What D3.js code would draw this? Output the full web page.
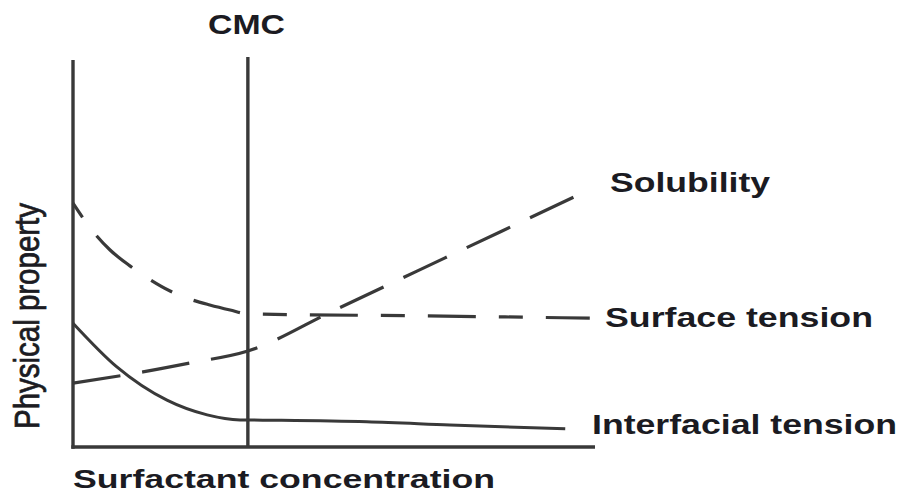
<!DOCTYPE html>
<html>
<head>
<meta charset="utf-8">
<script src="https://cdn.jsdelivr.net/npm/d3@7"></script>
<style>
  html, body { margin: 0; padding: 0; background: #fff; }
  svg { display: block; }
  text { font-family: "Liberation Sans", Arial, Helvetica, sans-serif; fill: #1b1b22; }
</style>
</head>
<body>
<svg id="chart" width="899" height="493"></svg>
<script>
// ---- Data (arbitrary units: concentration 0–100, property 0–100) ----
const cmcConcentration = 33.5;

const surfaceTensionX = [0, 3.3, 7.1, 10.9, 14.8, 18.6, 22.4, 26.2, 30.1, 33.5, 66.5, 99.0];
const surfaceTensionY = [63.0, 56.6, 50.9, 46.8, 43.2, 40.3, 38.2, 36.7, 35.4, 34.4, 33.9, 33.3];

const solubilityX = [0, 13.4, 22.4, 33.5, 50, 66, 82, 99.6];
const solubilityY = [16.5, 19.4, 21.7, 24.8, 35.3, 45.5, 55.7, 66.9];

const interfacialX = [0, 8.4, 18.0, 25.7, 32.0, 39.1, 56.3, 72.2, 94.3];
const interfacialY = [32.0, 20.7, 12.1, 8.3, 7.0, 6.9, 6.5, 5.7, 4.7];

const seriesLabels = ["Solubility", "Surface tension", "Interfacial tension"];
const xTitle = "Surfactant concentration";
const yTitle = "Physical property";
const cmcLabel = "CMC";

// ---- Layout ----
const svg = d3.select("#chart");
const x = d3.scaleLinear().domain([0, 100]).range([73, 595]);
const y = d3.scaleLinear().domain([0, 100]).range([447, 60]);

const ink = "#393939";

// axes (no ticks)
svg.append("line")
  .attr("x1", x(0)).attr("x2", x(0))
  .attr("y1", y(100)).attr("y2", y(0) + 1.7)
  .attr("stroke", ink).attr("stroke-width", 3.4);
svg.append("line")
  .attr("x1", x(0) - 1.7).attr("x2", x(100))
  .attr("y1", y(0)).attr("y2", y(0))
  .attr("stroke", ink).attr("stroke-width", 3.4);

// CMC vertical line
svg.append("line")
  .attr("x1", x(cmcConcentration)).attr("x2", x(cmcConcentration))
  .attr("y1", y(100) - 3).attr("y2", y(0))
  .attr("stroke", ink).attr("stroke-width", 3.4);

const line = d3.line().x(d => x(d[0])).y(d => y(d[1])).curve(d3.curveMonotoneX);
const zip = (a, b) => a.map((v, i) => [v, b[i]]);

// Surface tension (dashed, alternating)
svg.append("path")
  .datum(zip(surfaceTensionX, surfaceTensionY))
  .attr("d", line)
  .attr("fill", "none").attr("stroke", ink).attr("stroke-width", 3.2)
  .attr("stroke-dasharray", "24,23,48,23").attr("stroke-dashoffset", 7);

// Solubility (dashed)
svg.append("path")
  .datum(zip(solubilityX, solubilityY))
  .attr("d", line)
  .attr("fill", "none").attr("stroke", ink).attr("stroke-width", 3.2)
  .attr("stroke-dasharray", "48,22");

// Interfacial tension (solid)
svg.append("path")
  .datum(zip(interfacialX, interfacialY))
  .attr("d", line)
  .attr("fill", "none").attr("stroke", ink).attr("stroke-width", 3);

// ---- Text ----
function label(txt, xPos, yPos, width, size, weight) {
  svg.append("text")
    .attr("x", xPos).attr("y", yPos)
    .attr("font-size", size).attr("font-weight", weight)
    .attr("textLength", width).attr("lengthAdjust", "spacingAndGlyphs")
    .text(txt);
}
label(cmcLabel, 208, 34, 77, 27, "bold");
label(seriesLabels[0], 610, 192, 160, 27, "bold");
label(seriesLabels[1], 605, 327, 268, 27, "bold");
label(seriesLabels[2], 592, 434, 305, 27, "bold");
label(xTitle, 73, 488, 422, 26, "bold");

// Y title (rotated, stretched horizontally like the reference)
svg.append("text")
  .attr("transform", "translate(39,429) scale(1.27,1) rotate(-90)")
  .attr("font-size", 28)
  .attr("stroke", "#1b1b22").attr("stroke-width", 0.6)
  .attr("textLength", 226).attr("lengthAdjust", "spacingAndGlyphs")
  .text(yTitle);
</script>
</body>
</html>
